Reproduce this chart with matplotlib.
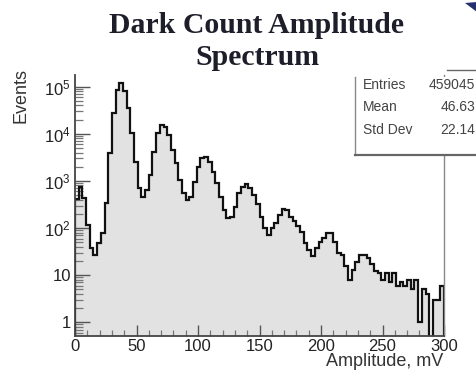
import numpy as np
import matplotlib
matplotlib.use("Agg")
import matplotlib.pyplot as plt
from matplotlib.lines import Line2D
from matplotlib.patches import Rectangle, Polygon
from matplotlib.ticker import FixedLocator, FixedFormatter, LogLocator, MultipleLocator, NullFormatter

plt.rcParams['font.family'] = ['Liberation Sans', 'DejaVu Sans']
plt.rcParams['mathtext.fontset'] = 'custom'
plt.rcParams['mathtext.rm'] = 'Liberation Sans'
plt.rcParams['mathtext.it'] = 'Liberation Sans:italic'
plt.rcParams['mathtext.bf'] = 'Liberation Sans:bold'

# ---- data ----
bin_width = 3.0
x_min, x_max = 0.0, 300.0
counts = [
    417, 759, 437, 115, 37, 27, 48, 78, 339, 3890,
    27500, 85100, 120000, 79400, 35500, 10500, 2510, 708, 457, 646,
    1350, 4170, 10200, 15500, 14100, 9330, 4570, 2400, 1050, 550,
    389, 457, 955, 2000, 3090, 3240, 2570, 1580, 891, 457,
    240, 162, 174, 282, 550, 759, 851, 692, 501, 331,
    174, 98, 71, 98, 126, 191, 251, 240, 174, 141,
    112, 83, 48, 34, 25, 37, 51, 63, 79, 78,
    51, 30, 27, 16, 8, 13, 19, 27, 27, 23,
    17, 12, 11, 8, 11, 7, 11, 6, 7, 6,
    8, 5, 8, 1, 5, 4, 0, 3, 3, 6,
]
stats_labels = ["Entries", "Mean", "Std Dev"]
stats_values = ["459045", "46.63", "22.14"]
y_tick_values = [1, 10, 100, 1000, 10000, 100000]
y_tick_labels = ["1", "10", "$10^{2}$", "$10^{3}$", "$10^{4}$", "$10^{5}$"]
x_tick_values = [0, 50, 100, 150, 200, 250, 300]
title_lines = ["Dark Count Amplitude", "Spectrum"]
x_label = "Amplitude, mV"
y_label = "Events"

W, H = 477, 377
fig = plt.figure(figsize=(W / 100, H / 100), dpi=100)
fig.patch.set_facecolor("white")

def fx(px):
    return px / W

def fy(py):
    return 1 - py / H

ax = fig.add_axes([fx(75), fy(336), fx(444) - fx(75), fy(75) - fy(336)])
ax.set_yscale("log")
ymin, ymax = 0.512, 1.77e5
ax.set_xlim(x_min, x_max)
ax.set_ylim(ymin, ymax)

counts_arr = np.asarray(counts, dtype=float)
edges = np.arange(len(counts_arr) + 1) * bin_width
draw_vals = np.where(counts_arr > 0, counts_arr, 1e-3)
ax.stairs(draw_vals, edges, baseline=1e-3, fill=True, color="#e2e2e2", zorder=1)
ax.stairs(draw_vals, edges, baseline=1e-3, fill=False, color="#111111", linewidth=1.6, zorder=2)

# spines
ax.spines["top"].set_visible(False)
ax.spines["left"].set_linewidth(1.3)
ax.spines["bottom"].set_linewidth(1.3)
ax.spines["left"].set_color("#444444")
ax.spines["bottom"].set_color("#444444")
ax.spines["right"].set_color("#888888")
ax.spines["right"].set_linewidth(1.0)

# ticks
ax.yaxis.set_major_locator(FixedLocator(y_tick_values))
ax.yaxis.set_major_formatter(FixedFormatter(y_tick_labels))
ax.yaxis.set_minor_locator(LogLocator(base=10, subs=np.arange(2, 10)))
ax.yaxis.set_minor_formatter(NullFormatter())
ax.xaxis.set_major_locator(FixedLocator(x_tick_values))
ax.xaxis.set_minor_locator(MultipleLocator(10))
ax.tick_params(axis="y", which="major", direction="in", length=11, width=1.0, color="#555555",
               labelsize=12, pad=3, left=True, right=False)
ax.tick_params(axis="y", which="minor", direction="in", length=6, width=0.9, color="#777777",
               left=True, right=False)
ax.tick_params(axis="x", which="major", direction="in", length=8, width=1.0, color="#555555",
               labelsize=12, pad=2, bottom=True, top=False)
ax.tick_params(axis="x", which="minor", direction="in", length=4, width=0.9, color="#777777",
               bottom=True, top=False)
for lab in ax.get_xticklabels() + ax.get_yticklabels():
    lab.set_color("#222222")

# axis labels
fig.text(fx(443), fy(362), x_label, ha="right", va="center", fontsize=13, color="#333333")
fig.text(fx(21), fy(68), y_label, ha="center", va="top", rotation=90, fontsize=13, color="#333333")

# title
fig.text(fx(257), fy(33), title_lines[0], ha="center", va="baseline",
         fontsize=21.4, fontweight="bold", family="Liberation Serif", color="#1e1e2a")
fig.text(fx(257), fy(65), title_lines[1], ha="center", va="baseline",
         fontsize=21.4, fontweight="bold", family="Liberation Serif", color="#1e1e2a")

# stats box
fig.patches.append(Rectangle((fx(355), fy(155)), fx(W + 10) - fx(355), fy(77) - fy(155),
                             transform=fig.transFigure, facecolor="white", edgecolor="none", zorder=5))
fig.lines.append(Line2D([fx(355), fx(355)], [fy(77), fy(155)], transform=fig.transFigure,
                        color="#888888", linewidth=1.0, zorder=6))
fig.lines.append(Line2D([fx(355), fx(W + 5)], [fy(155), fy(155)], transform=fig.transFigure,
                        color="#666666", linewidth=1.6, zorder=6))
fig.lines.append(Line2D([fx(447), fx(W + 5)], [fy(70), fy(70)], transform=fig.transFigure,
                        color="#666666", linewidth=1.0, zorder=6))
row_y = [85, 107, 130]
for lab, val, yy in zip(stats_labels, stats_values, row_y):
    fig.text(fx(363), fy(yy), lab, ha="left", va="center", fontsize=10, color="#444444", zorder=7)
    fig.text(fx(475), fy(yy), val, ha="right", va="center", fontsize=10, color="#444444", zorder=7)

# corner logo fragment
fig.patches.append(Polygon([[fx(465), fy(3)], [fx(477), fy(2)], [fx(477), fy(12)]], closed=True,
                           transform=fig.transFigure, facecolor="#27306e", edgecolor="none", zorder=5))

fig.savefig("out.png", dpi=100, facecolor="white")
